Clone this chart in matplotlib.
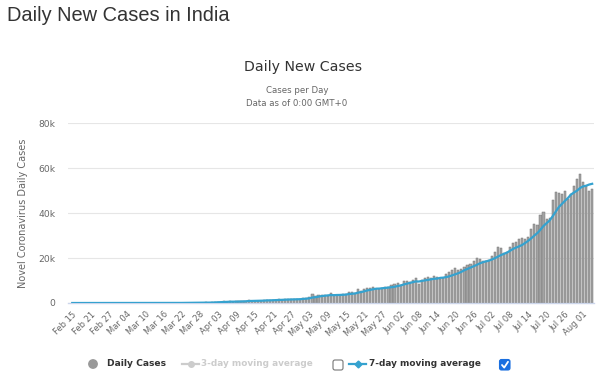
import matplotlib
matplotlib.use("Agg")
import matplotlib.pyplot as plt
from matplotlib.patches import FancyBboxPatch, Circle
import numpy as np
import pandas as pd

# ---------------- data ----------------
start_date = "2020-02-15"
feb = [0] * 15  # Feb 15 - Feb 29
mar = [0, 2, 1, 22, 2, 1, 3, 5, 4, 13, 6, 11, 9, 20, 11, 6, 23, 14, 38, 50, 86,
       66, 103, 37, 121, 70, 160, 100, 82, 227, 146]
apr = [601, 545, 503, 578, 689, 354, 773, 565, 809, 873, 1075, 705, 1320, 1080,
       883, 1076, 1007, 1235, 1553, 1336, 1540, 1290, 1667, 1408, 1835, 1607,
       1561, 1873, 1738, 1801]
may = [2394, 2442, 2806, 3932, 2963, 3587, 3364, 3344, 3113, 4353, 3607, 3524,
       3763, 3942, 3787, 4864, 5050, 4630, 6147, 5553, 6198, 6568, 6629, 7111,
       6414, 6382, 6535, 7246, 7254, 8138, 8380]
jun = [8800, 8200, 9600, 9800, 9500, 10400, 10900, 8400, 10200, 11100, 11400,
       11300, 12000, 11500, 10700, 10900, 12900, 13600, 14500, 15400, 14800,
       14900, 16000, 16900, 17300, 18600, 19900, 19500, 18500, 18700]
jul = [19148, 20903, 22771, 24850, 24248, 22252, 22752, 24879, 26506, 27114,
       28637, 28701, 28498, 29429, 32695, 34956, 34884, 38902, 40425, 37148,
       37724, 45720, 49310, 48916, 48661, 49931, 46200, 48513, 52123, 55079,
       57118]
aug = [53800, 52000, 49900, 50800]

daily_cases = feb + mar + apr + may + jun + jul + aug
dates = pd.date_range(start_date, periods=len(daily_cases), freq="D")
series = pd.Series(daily_cases, index=dates)
ma7 = series.rolling(7, min_periods=1).mean()

y_ticks = [0, 20000, 40000, 60000, 80000]
y_tick_labels = ["0", "20k", "40k", "60k", "80k"]

page_title = "Daily New Cases in India"
chart_title = "Daily New Cases"
subtitle_1 = "Cases per Day"
subtitle_2 = "Data as of 0:00 GMT+0"
y_label = "Novel Coronavirus Daily Cases"
legend_labels = ["Daily Cases", "3-day moving average", "7-day moving average"]

# ---------------- style ----------------
W, H = 600, 381
BAR_COLOR = "#a3a3a3"
LINE_COLOR = "#35a2cf"
GRID_COLOR = "#e6e6e6"
TEXT_DARK = "#333333"
TEXT_GRAY = "#666666"

fig = plt.figure(figsize=(W / 100, H / 100), dpi=100)

# main axes in pixel geometry
left, right, top, bottom = 68, 594, 123, 303
ax = fig.add_axes([left / W, 1 - bottom / H, (right - left) / W, (bottom - top) / H])

x = np.arange(len(daily_cases))
ax.bar(x, series.values, width=0.7, color=BAR_COLOR, edgecolor="#777777",
       linewidth=0.35, zorder=2)
ax.plot(x, ma7.values, color=LINE_COLOR, linewidth=1.6, zorder=3,
        solid_joinstyle="round")

ax.set_xlim(-1.4, len(daily_cases) - 0.4)
ax.set_ylim(0, 80000)
ax.set_yticks(y_ticks)
ax.set_yticklabels(y_tick_labels)
ax.grid(axis="y", color=GRID_COLOR, linewidth=0.8, zorder=0)
ax.set_axisbelow(True)

tick_idx = x[::6]
ax.set_xticks(tick_idx)
ax.set_xticklabels([d.strftime("%b %d") for d in dates[::6]], rotation=45,
                   ha="right", rotation_mode="anchor", fontsize=6.0,
                   color=TEXT_GRAY)
ax.tick_params(axis="x", length=0, pad=5)
ax.tick_params(axis="y", length=0, pad=9, labelsize=6.6, labelcolor=TEXT_GRAY)

for s in ["top", "right", "left"]:
    ax.spines[s].set_visible(False)
ax.spines["bottom"].set_color("#ccd6eb")
ax.spines["bottom"].set_linewidth(1.0)

# overlay axes in pixel coordinates for texts and legend
ov = fig.add_axes([0, 0, 1, 1], zorder=5)
ov.set_xlim(0, W)
ov.set_ylim(H, 0)
ov.axis("off")
ov.patch.set_alpha(0)

ov.text(7, 21, page_title, fontsize=14.4, family="Liberation Sans",
        color=TEXT_DARK, va="baseline", ha="left")
ov.text(303.5, 71, chart_title, fontsize=10.2, color=TEXT_DARK,
        va="baseline", ha="center")
ov.text(297, 93, subtitle_1, fontsize=6.2, color=TEXT_GRAY, va="baseline",
        ha="center")
ov.text(297, 106.5, subtitle_2, fontsize=6.2, color=TEXT_GRAY, va="baseline",
        ha="center")
ov.text(23, 213, y_label, fontsize=7.0, color=TEXT_GRAY, rotation=90,
        va="center", ha="center")

# legend
ly = 364
ov.add_patch(Circle((93, ly), 4.2, color="#999999"))
ov.text(107, ly, legend_labels[0], fontsize=6.6, fontweight="bold",
        color=TEXT_DARK, va="center", ha="left")

ov.plot([182, 199], [ly, ly], color="#cccccc", linewidth=1.6)
ov.plot([190.5], [ly], marker="o", markersize=4, color="#cccccc")
ov.text(201, ly, legend_labels[1], fontsize=6.4, fontweight="bold",
        color="#cccccc", va="center", ha="left")
ov.add_patch(FancyBboxPatch((333, 360), 10, 10,
                            boxstyle="round,pad=0,rounding_size=2",
                            facecolor="white", edgecolor="#767676",
                            linewidth=0.8))

ov.plot([349, 366], [ly, ly], color=LINE_COLOR, linewidth=1.6)
ov.plot([357.5], [ly], marker="D", markersize=3.5, color=LINE_COLOR)
ov.text(369, ly, legend_labels[2], fontsize=6.4, fontweight="bold",
        color=TEXT_DARK, va="center", ha="left")
ov.add_patch(FancyBboxPatch((499.5, 359.5), 10.5, 10.5,
                            boxstyle="round,pad=0,rounding_size=2",
                            facecolor="#1a6fe0", edgecolor="#1a6fe0",
                            linewidth=0.8))
ov.plot([502, 504.2, 508], [365, 367.6, 361.8], color="white", linewidth=1.3,
        solid_capstyle="round", solid_joinstyle="round")

fig.savefig("out.png", dpi=100)
